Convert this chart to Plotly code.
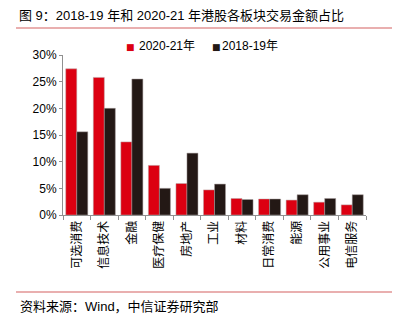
import plotly.graph_objects as go

categories = ["可选消费", "信息技术", "金融", "医疗保健", "房地产", "工业", "材料", "日常消费", "能源", "公用事业", "电信服务"]
series_2020_21 = [27.4, 25.8, 13.7, 9.3, 5.9, 4.7, 3.1, 3.0, 2.8, 2.4, 1.9]
series_2018_19 = [15.6, 20.0, 25.5, 5.0, 11.6, 5.8, 2.9, 3.0, 3.8, 3.1, 3.8]
series_names = ["2020-21年", "2018-19年"]
y_ticks = [0, 5, 10, 15, 20, 25, 30]
y_ticklabels = [f"{v}%" for v in y_ticks]

FONT = "Liberation Sans, Arial, Noto Sans CJK SC, sans-serif"
RED = "#DC0011"
BLACK = "#231815"

W, H = 397, 323
L, R, T, B = 63, 31, 55, 108
PW, PH = W - L - R, H - T - B


def px(x):
    return (x - L) / PW


def py(y):
    return (H - B - y) / PH


fig = go.Figure()
fig.add_trace(go.Bar(x=categories, y=series_2020_21, name=series_names[0],
                     marker=dict(color=RED, line=dict(color="#B8A8A8", width=0.5))))
fig.add_trace(go.Bar(x=categories, y=series_2018_19, name=series_names[1],
                     marker=dict(color=BLACK, line=dict(color="#A89F9F", width=0.5))))

annotations = [
    dict(text="图 9：2018-19 年和 2020-21 年港股各板块交易金额占比", xref="paper", yref="paper",
         x=px(17), y=py(15), xanchor="left", yanchor="middle",
         showarrow=False, font=dict(size=13, color="#000")),
    dict(text="资料来源：Wind，中信证券研究部", xref="paper", yref="paper",
         x=px(18), y=py(306), xanchor="left", yanchor="middle",
         showarrow=False, font=dict(size=13, color="#000")),
]
# legend (square glyph + label)
for name, color, sx, tx in [(series_names[0], RED, 130.5, 137), (series_names[1], BLACK, 216, 220)]:
    annotations.append(dict(text="■", xref="paper", yref="paper", x=px(sx), y=py(47),
                            xanchor="center", yanchor="middle", showarrow=False,
                            font=dict(size=9, color=color, family="DejaVu Sans")))
    annotations.append(dict(text=name, xref="paper", yref="paper", x=px(tx), y=py(46),
                            xanchor="left", yanchor="middle", showarrow=False,
                            font=dict(size=12, color="#000")))

fig.update_layout(
    width=W, height=H,
    margin=dict(l=L, r=R, t=T, b=B),
    paper_bgcolor="white", plot_bgcolor="white",
    font=dict(family=FONT, size=12, color="#000"),
    barmode="group", bargap=0.2, bargroupgap=0,
    showlegend=False,
    xaxis=dict(
        type="category", tickangle=-90,
        tickfont=dict(size=12),
        showline=True, linecolor="#909090", linewidth=1,
        ticks="outside", tickson="boundaries", ticklen=4, tickcolor="#909090",
        showgrid=False,
    ),
    yaxis=dict(
        range=[0, 30], tickvals=y_ticks, ticktext=y_ticklabels,
        tickfont=dict(size=12),
        showline=True, linecolor="#909090", linewidth=1,
        ticks="outside", ticklen=3, tickcolor="#909090",
        showgrid=False, zeroline=False,
    ),
    shapes=[
        dict(type="line", xref="paper", yref="paper", x0=px(16), x1=px(392),
             y0=py(28), y1=py(28), line=dict(color="#E29595", width=1.5)),
        dict(type="line", xref="paper", yref="paper", x0=px(16), x1=px(392),
             y0=py(292), y1=py(292), line=dict(color="#E29595", width=1.5)),
    ],
    annotations=annotations,
)

fig.write_html("out.html")
